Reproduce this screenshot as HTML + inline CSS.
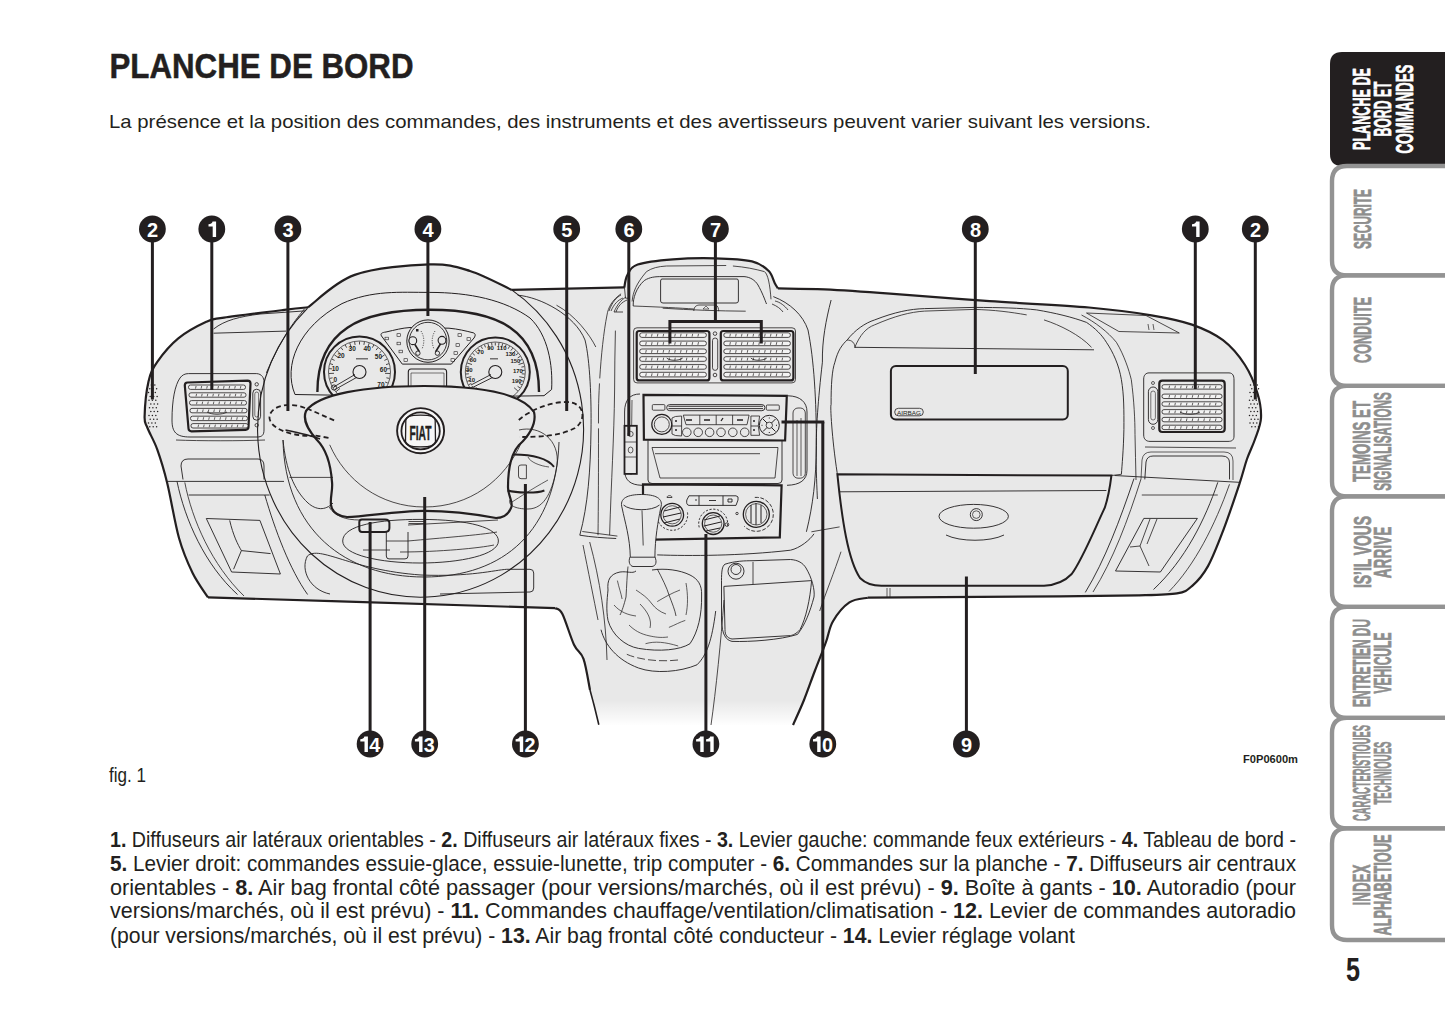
<!DOCTYPE html>
<html><head><meta charset="utf-8"><title>Planche de bord</title>
<style>
html,body{margin:0;padding:0;background:#fff;width:1445px;height:1026px;overflow:hidden}
svg{display:block;position:absolute;left:0;top:0}
text{font-family:"Liberation Sans",sans-serif;fill:#231f20}
.tab{font-weight:bold;fill:#8e8e8e;stroke:#8e8e8e;stroke-width:0.7}
.tabw{font-weight:bold;fill:#fff;stroke:#fff;stroke-width:0.7}
.num{font-weight:bold;fill:#fff;font-size:20px;text-anchor:middle}
</style></head><body>
<svg width="1445" height="1026" viewBox="0 0 1445 1026">
<defs>
<linearGradient id="fade" x1="0" y1="0" x2="0" y2="1">
<stop offset="0" stop-color="#fff" stop-opacity="0"/>
<stop offset="1" stop-color="#fff" stop-opacity="1"/>
</linearGradient>
</defs>
<!-- title -->
<text x="109.5" y="77.6" font-size="35.2" font-weight="bold" stroke="#231f20" stroke-width="0.5" textLength="304" lengthAdjust="spacingAndGlyphs">PLANCHE DE BORD</text>
<text x="109" y="128.4" font-size="19" textLength="1042" lengthAdjust="spacingAndGlyphs">La présence et la position des commandes, des instruments et des avertisseurs peuvent varier suivant les versions.</text>

<!-- tabs -->
<g>
<path d="M1445 52 H1342 Q1330 52 1330 64 V154 Q1330 166 1342 166 H1445 Z" fill="#231f20"/>
<path d="M1445 275.4 H1347 Q1332 275.4 1332 260.4 V181 Q1332 166 1347 166 H1445" fill="none" stroke="#939393" stroke-width="4.4"/>
<path d="M1445 385.9 H1347 Q1332 385.9 1332 370.9 V290.4 Q1332 275.4 1347 275.4 H1445" fill="none" stroke="#939393" stroke-width="4.4"/>
<path d="M1445 496.4 H1347 Q1332 496.4 1332 481.4 V400.9 Q1332 385.9 1347 385.9 H1445" fill="none" stroke="#939393" stroke-width="4.4"/>
<path d="M1445 606.9 H1347 Q1332 606.9 1332 591.9 V511.4 Q1332 496.4 1347 496.4 H1445" fill="none" stroke="#939393" stroke-width="4.4"/>
<path d="M1445 717.9 H1347 Q1332 717.9 1332 702.9 V621.9 Q1332 606.9 1347 606.9 H1445" fill="none" stroke="#939393" stroke-width="4.4"/>
<path d="M1445 828.4 H1347 Q1332 828.4 1332 813.4 V732.9 Q1332 717.9 1347 717.9 H1445" fill="none" stroke="#939393" stroke-width="4.4"/>
<path d="M1445 940 H1347 Q1332 940 1332 925 V843.4 Q1332 828.4 1347 828.4 H1445" fill="none" stroke="#939393" stroke-width="4.4"/>
</g>
<g font-size="23">
<!-- black tab -->
<g transform="translate(1370,109) rotate(-90)"><text class="tabw" x="0" y="0" text-anchor="middle" textLength="82" lengthAdjust="spacingAndGlyphs">PLANCHE DE</text></g>
<g transform="translate(1391.4,109) rotate(-90)"><text class="tabw" x="0" y="0" text-anchor="middle" textLength="55" lengthAdjust="spacingAndGlyphs">BORD ET</text></g>
<g transform="translate(1413.4,109) rotate(-90)"><text class="tabw" x="0" y="0" text-anchor="middle" textLength="89" lengthAdjust="spacingAndGlyphs">COMMANDES</text></g>
<g transform="translate(1371,219) rotate(-90)"><text class="tab" x="0" y="0" text-anchor="middle" textLength="60" lengthAdjust="spacingAndGlyphs">SECURITE</text></g>
<g transform="translate(1371,330) rotate(-90)"><text class="tab" x="0" y="0" text-anchor="middle" textLength="66" lengthAdjust="spacingAndGlyphs">CONDUITE</text></g>
<g transform="translate(1370,441.5) rotate(-90)"><text class="tab" x="0" y="0" text-anchor="middle" textLength="81" lengthAdjust="spacingAndGlyphs">TEMOINS ET</text></g>
<g transform="translate(1391,441.5) rotate(-90)"><text class="tab" x="0" y="0" text-anchor="middle" textLength="98.5" lengthAdjust="spacingAndGlyphs">SIGNALISATIONS</text></g>
<g transform="translate(1370.5,552) rotate(-90)"><text class="tab" x="0" y="0" text-anchor="middle" textLength="72" lengthAdjust="spacingAndGlyphs">IS’IL VOUS</text></g>
<g transform="translate(1391,552.5) rotate(-90)"><text class="tab" x="0" y="0" text-anchor="middle" textLength="51.5" lengthAdjust="spacingAndGlyphs">ARRIVE</text></g>
<g transform="translate(1370,663) rotate(-90)"><text class="tab" x="0" y="0" text-anchor="middle" textLength="88" lengthAdjust="spacingAndGlyphs">ENTRETIEN DU</text></g>
<g transform="translate(1391,663) rotate(-90)"><text class="tab" x="0" y="0" text-anchor="middle" textLength="61" lengthAdjust="spacingAndGlyphs">VEHICULE</text></g>
<g transform="translate(1370,773) rotate(-90)"><text class="tab" x="0" y="0" text-anchor="middle" textLength="96" lengthAdjust="spacingAndGlyphs">CARACTERISTIOUES</text></g>
<g transform="translate(1391,773) rotate(-90)"><text class="tab" x="0" y="0" text-anchor="middle" textLength="63" lengthAdjust="spacingAndGlyphs">TECHNIOUES</text></g>
<g transform="translate(1370,885) rotate(-90)"><text class="tab" x="0" y="0" text-anchor="middle" textLength="41" lengthAdjust="spacingAndGlyphs">INDEX</text></g>
<g transform="translate(1391,885) rotate(-90)"><text class="tab" x="0" y="0" text-anchor="middle" textLength="101" lengthAdjust="spacingAndGlyphs">ALPHABETIOUE</text></g>
</g>
<text x="1346" y="981" font-size="33" font-weight="bold" textLength="14" lengthAdjust="spacingAndGlyphs">5</text>

<!-- illustration -->
<path d="M208 597.4 C205.4 593.3 197.4 582.9 192.6 573.0 C187.8 563.1 183.2 552.9 179.0 538.0 C174.8 523.1 170.9 498.1 167.3 483.4 C163.7 468.7 160.6 458.8 157.3 449.6 C154.0 440.4 149.6 433.5 147.5 428.0 C145.4 422.5 144.4 424.3 144.6 416.5 C144.8 408.7 146.4 390.5 148.5 381.4 C150.6 372.3 152.3 369.1 157.3 361.9 C162.3 354.7 170.1 345.1 178.3 338.4 C186.5 331.7 198.7 325.3 206.3 321.8 C213.9 318.3 211.0 319.6 224.0 317.6 C237.0 315.6 270.2 311.6 284.2 309.9 C298.2 308.2 304.0 307.7 308.0 307.3C315.8 301.9 334.4 282.0 354.7 274.9 C374.9 267.8 410.3 265.0 429.5 264.4 C448.7 263.8 456.3 266.8 470.0 271.0 C483.7 275.2 504.8 286.8 511.7 289.9L624.3 287.4C624.8 285.3 625.2 278.8 627.4 275.0 C629.6 271.2 630.1 267.1 637.7 264.5 C645.3 261.9 660.2 260.3 673.0 259.3 C685.8 258.3 701.4 258.0 714.6 258.3 C727.8 258.6 743.0 259.3 752.0 261.4 C761.0 263.5 764.7 267.2 768.5 270.8 C772.3 274.4 773.2 280.3 774.8 283.2 C776.4 286.1 777.4 287.5 777.9 288.4C785.7 288.6 805.9 288.5 824.6 289.4 C843.3 290.3 862.5 291.6 890.0 293.6 C917.5 295.6 956.3 298.9 989.5 301.2 C1022.7 303.5 1062.0 305.1 1089.0 307.5 C1116.0 309.9 1134.3 312.4 1151.5 315.3 C1168.7 318.2 1180.1 320.5 1192.0 324.6 C1203.9 328.8 1214.2 333.5 1223.0 340.2 C1231.8 346.9 1239.3 356.2 1245.0 365.0 C1250.7 373.8 1254.7 384.2 1257.4 393.0 C1260.1 401.8 1261.4 410.2 1261.0 418.0 C1260.6 425.8 1257.2 432.7 1254.9 439.5 C1252.6 446.3 1249.6 451.5 1247.0 459.0 C1244.4 466.5 1243.2 472.6 1239.3 484.3 C1235.4 496.0 1228.9 515.5 1223.7 529.1 C1218.5 542.7 1213.2 556.7 1208.0 566.1 C1202.8 575.5 1197.7 581.1 1192.5 585.6 C1187.3 590.1 1186.1 591.8 1177.0 593.4 C1167.9 595.0 1144.5 595.1 1138.0 595.4L1060.0 596.3 L867.8 597.7C864.7 598.5 855.2 598.5 849.4 602.4 C843.6 606.3 836.9 614.6 833.0 621.2 C829.1 627.8 829.0 633.7 826.0 642.0 C823.0 650.3 818.5 661.3 814.8 671.0 C811.1 680.7 807.6 691.0 804.0 700.0 C800.4 709.0 794.8 720.8 793.0 725.0 L598.8 725 C597.3 718.9 592.5 701.0 590.0 690.0 C587.5 679.0 586.2 666.3 583.5 658.8 C580.8 651.2 577.5 652.2 574.0 644.7 C570.5 637.2 565.5 620.1 562.4 614.0 C559.3 607.9 556.5 609.2 555.3 608.2L340.0 601.3 L208.0 597.4Z" fill="#e8e8e8" stroke="none"/>
<rect x="560" y="700" width="300" height="26" fill="url(#fade)"/>
<path d="M208.0 597.4 C205.4 593.3 197.4 582.9 192.6 573.0 C187.8 563.1 183.2 552.9 179.0 538.0 C174.8 523.1 170.9 498.1 167.3 483.4 C163.7 468.7 160.6 458.8 157.3 449.6 C154.0 440.4 149.6 433.5 147.5 428.0 C145.4 422.5 144.4 424.3 144.6 416.5 C144.8 408.7 146.4 390.5 148.5 381.4 C150.6 372.3 152.3 369.1 157.3 361.9 C162.3 354.7 170.1 345.1 178.3 338.4 C186.5 331.7 198.7 325.3 206.3 321.8 C213.9 318.3 211.0 319.6 224.0 317.6 C237.0 315.6 270.2 311.6 284.2 309.9 C298.2 308.2 304.0 307.7 308.0 307.3" fill="none" stroke="#231f20" stroke-width="2.2" />
<path d="M308.0 307.3 C315.8 301.9 334.4 282.0 354.7 274.9 C374.9 267.8 410.3 265.0 429.5 264.4 C448.7 263.8 456.3 266.8 470.0 271.0 C483.7 275.2 504.8 286.8 511.7 289.9" fill="none" stroke="#231f20" stroke-width="2.2" />
<path d="M624.3 287.4 C624.8 285.3 625.2 278.8 627.4 275.0 C629.6 271.2 630.1 267.1 637.7 264.5 C645.3 261.9 660.2 260.3 673.0 259.3 C685.8 258.3 701.4 258.0 714.6 258.3 C727.8 258.6 743.0 259.3 752.0 261.4 C761.0 263.5 764.7 267.2 768.5 270.8 C772.3 274.4 773.2 280.3 774.8 283.2 C776.4 286.1 777.4 287.5 777.9 288.4" fill="none" stroke="#231f20" stroke-width="2.2" />
<path d="M777.9 288.4 C785.7 288.6 805.9 288.5 824.6 289.4 C843.3 290.3 862.5 291.6 890.0 293.6 C917.5 295.6 956.3 298.9 989.5 301.2 C1022.7 303.5 1062.0 305.1 1089.0 307.5 C1116.0 309.9 1134.3 312.4 1151.5 315.3 C1168.7 318.2 1180.1 320.5 1192.0 324.6 C1203.9 328.8 1214.2 333.5 1223.0 340.2 C1231.8 346.9 1239.3 356.2 1245.0 365.0 C1250.7 373.8 1254.7 384.2 1257.4 393.0 C1260.1 401.8 1261.4 410.2 1261.0 418.0 C1260.6 425.8 1257.2 432.7 1254.9 439.5 C1252.6 446.3 1249.6 451.5 1247.0 459.0 C1244.4 466.5 1243.2 472.6 1239.3 484.3 C1235.4 496.0 1228.9 515.5 1223.7 529.1 C1218.5 542.7 1213.2 556.7 1208.0 566.1 C1202.8 575.5 1197.7 581.1 1192.5 585.6 C1187.3 590.1 1186.1 591.8 1177.0 593.4 C1167.9 595.0 1144.5 595.1 1138.0 595.4" fill="none" stroke="#231f20" stroke-width="2.2" />
<path d="M867.8 597.7 C864.7 598.5 855.2 598.5 849.4 602.4 C843.6 606.3 836.9 614.6 833.0 621.2 C829.1 627.8 829.0 633.7 826.0 642.0 C823.0 650.3 818.5 661.3 814.8 671.0 C811.1 680.7 807.6 691.0 804.0 700.0 C800.4 709.0 794.8 720.8 793.0 725.0" fill="none" stroke="#231f20" stroke-width="2.2" />
<path d="M590.0 690.0 C588.9 684.8 586.2 666.3 583.5 658.8 C580.8 651.2 577.5 652.2 574.0 644.7 C570.5 637.2 565.5 620.1 562.4 614.0 C559.3 607.9 556.5 609.2 555.3 608.2" fill="none" stroke="#231f20" stroke-width="2.2" />
<path d="M511.7 289.9 L624.3 287.4" fill="none" stroke="#231f20" stroke-width="2.2" />
<path d="M1138.0 595.4 L1060.0 596.3 L867.8 597.7" fill="none" stroke="#231f20" stroke-width="2.2" />
<path d="M555.3 608.2 L340.0 601.3 L208.0 597.4" fill="none" stroke="#231f20" stroke-width="2.2" />
<path d="M598.8 724.7 C598.0 721.4 595.5 710.8 594.0 705.0 C592.5 699.2 590.7 692.5 590.0 690.0" fill="none" stroke="#231f20" stroke-width="1.6" />
<path d="M307.4 308.3 A163 168 0 1 0 511.7 289.9" fill="none" stroke="#231f20" stroke-width="1.1" />
<path d="M295 394.5 C283 366, 298 327, 342 303.6 C372 290, 400 292.4, 429.5 292.4 C470 292.4, 505 300, 530 318 C548 335, 553 365, 551.6 389.5" fill="none" stroke="#231f20" stroke-width="1.0" />
<path d="M295 394.5 C 380 396, 470 397, 544 395.7 L551.6 389.5" fill="none" stroke="#231f20" stroke-width="1.0" />
<path d="M317.4 392 C317.4 330, 360 309.8, 429.5 309.8 C499 309.8, 539 330, 539 392" fill="none" stroke="#231f20" stroke-width="2.4" />
<circle cx="359.5" cy="372" r="35.5" fill="none" stroke="#231f20" stroke-width="2.0"/>
<circle cx="359.5" cy="372" r="31" fill="none" stroke="#231f20" stroke-width="0.7"/>
<circle cx="359.5" cy="372" r="6.5" fill="none" stroke="#231f20" stroke-width="1.1"/>
<path d="M333.6 387 L355 374.5 M335 389.5 L356.5 377.5" fill="none" stroke="#231f20" stroke-width="0.9" />
<circle cx="334" cy="387.5" r="2.6" fill="none" stroke="#231f20" stroke-width="0.9"/>
<path d="M336.1 391.6 L340.0 388.4 M333.3 387.6 L335.9 386.0 M331.1 383.1 L333.9 382.0 M329.7 378.4 L332.6 377.8 M329.0 373.5 L334.0 373.3 M329.2 368.6 L332.2 368.9 M330.1 363.7 L333.0 364.6 M331.9 359.1 L334.6 360.4 M334.3 354.8 L338.4 357.6 M337.4 351.0 L339.6 353.0 M341.1 347.7 L342.9 350.1 M345.2 345.0 L346.7 347.7 M349.8 343.1 L351.4 347.8 M354.6 341.9 L355.1 344.9 M359.5 341.5 L359.5 344.5 M364.4 341.9 L363.9 344.9 M369.2 343.1 L367.6 347.8 M373.8 345.0 L372.3 347.7 M377.9 347.7 L376.1 350.1 M381.6 351.0 L379.4 353.0 M384.7 354.8 L380.6 357.6 M387.1 359.1 L384.4 360.4 M388.9 363.7 L386.0 364.6 M389.8 368.6 L386.8 368.9 M390.0 373.5 L385.0 373.3 M389.3 378.4 L386.4 377.8 M387.9 383.1 L385.1 382.0 M385.7 387.6 L383.1 386.0 M382.9 391.6 L379.0 388.4 " fill="none" stroke="#231f20" stroke-width="0.8" />
<path d="M472.7 391.0 L476.5 387.7 M470.5 388.0 L473.0 386.3 M468.7 384.7 L471.4 383.4 M467.3 381.3 L470.1 380.3 M466.4 377.7 L471.3 376.7 M465.9 374.0 L468.9 373.8 M465.8 370.3 L468.8 370.5 M466.3 366.6 L469.2 367.1 M467.2 363.0 L472.0 364.5 M468.6 359.5 L471.3 360.8 M470.3 356.3 L472.9 357.9 M472.5 353.3 L474.8 355.2 M475.1 350.5 L478.5 354.2 M477.9 348.2 L479.7 350.6 M481.0 346.2 L482.5 348.8 M484.4 344.6 L485.5 347.4 M487.9 343.4 L489.2 348.3 M491.6 342.7 L492.0 345.7 M495.3 342.5 L495.3 345.5 M499.0 342.7 L498.6 345.7 M502.7 343.4 L501.4 348.3 M506.2 344.6 L505.1 347.4 M509.6 346.2 L508.1 348.8 M512.7 348.2 L510.9 350.6 M515.5 350.5 L512.1 354.2 M518.1 353.3 L515.8 355.2 M520.3 356.3 L517.7 357.9 M522.0 359.5 L519.3 360.8 M523.4 363.0 L518.6 364.5 M524.3 366.6 L521.4 367.1 M524.8 370.3 L521.8 370.5 M524.7 374.0 L521.7 373.8 M524.2 377.7 L519.3 376.7 M523.3 381.3 L520.5 380.3 M521.9 384.7 L519.2 383.4 M520.1 388.0 L517.6 386.3 M517.9 391.0 L514.1 387.7 " fill="none" stroke="#231f20" stroke-width="0.8" />
<circle cx="495.3" cy="372" r="34.5" fill="none" stroke="#231f20" stroke-width="2.0"/>
<circle cx="495.3" cy="372" r="30" fill="none" stroke="#231f20" stroke-width="0.7"/>
<circle cx="495.3" cy="372" r="6.5" fill="none" stroke="#231f20" stroke-width="1.1"/>
<path d="M471 385 L491 374.5 M472.5 387.5 L492.5 377.5" fill="none" stroke="#231f20" stroke-width="0.9" />
<text x="335.3" y="381.8" font-size="6.5" font-weight="bold" text-anchor="middle" fill="#231f20">0</text>
<text x="335.3" y="371.3" font-size="6.5" font-weight="bold" text-anchor="middle" fill="#231f20">10</text>
<text x="341.0" y="358.2" font-size="6.5" font-weight="bold" text-anchor="middle" fill="#231f20">20</text>
<text x="352.2" y="350.7" font-size="6.5" font-weight="bold" text-anchor="middle" fill="#231f20">30</text>
<text x="367.2" y="350.7" font-size="6.5" font-weight="bold" text-anchor="middle" fill="#231f20">40</text>
<text x="378.4" y="359.4" font-size="6.5" font-weight="bold" text-anchor="middle" fill="#231f20">50</text>
<text x="383.4" y="372.3" font-size="6.5" font-weight="bold" text-anchor="middle" fill="#231f20">60</text>
<text x="380.9" y="386.8" font-size="6.5" font-weight="bold" text-anchor="middle" fill="#231f20">70</text>
<text x="471.8" y="381.6" font-size="6" font-weight="bold" text-anchor="middle" fill="#231f20">10</text>
<text x="469.3" y="371.7" font-size="6" font-weight="bold" text-anchor="middle" fill="#231f20">30</text>
<text x="473.1" y="361.7" font-size="6" font-weight="bold" text-anchor="middle" fill="#231f20">50</text>
<text x="480.5" y="354.2" font-size="6" font-weight="bold" text-anchor="middle" fill="#231f20">70</text>
<text x="490.5" y="349.8" font-size="6" font-weight="bold" text-anchor="middle" fill="#231f20">90</text>
<text x="501.7" y="349.8" font-size="6" font-weight="bold" text-anchor="middle" fill="#231f20">110</text>
<text x="510.4" y="355.5" font-size="6" font-weight="bold" text-anchor="middle" fill="#231f20">130</text>
<text x="515.4" y="363.0" font-size="6" font-weight="bold" text-anchor="middle" fill="#231f20">150</text>
<text x="517.9" y="372.9" font-size="6" font-weight="bold" text-anchor="middle" fill="#231f20">170</text>
<text x="516.7" y="382.9" font-size="6" font-weight="bold" text-anchor="middle" fill="#231f20">190</text>
<rect x="356" y="358" width="12" height="1.5" fill="#231f20" opacity="0.6"/>
<rect x="490" y="358" width="8" height="1.5" fill="#231f20" opacity="0.6"/>
<path d="M381.5 336 C 380 333.5, 382 332.5, 386 332 C 395 330, 402 328, 410 327.5 L 449 328.2 C 458 329, 466 331, 472 332.5 C 475.5 333, 476 335, 474 338 L 451.4 364.1 L 402.3 364.1 Z" fill="none" stroke="#231f20" stroke-width="1.0" />
<circle cx="428" cy="341.1" r="21.2" fill="#e8e8e8" stroke="#231f20" stroke-width="1.0"/>
<circle cx="428" cy="341.1" r="18.8" fill="none" stroke="#231f20" stroke-width="0.9"/>
<path d="M414 343 L 419.5 352 M 441 343 L 435.5 352" fill="none" stroke="#231f20" stroke-width="1.6" />
<circle cx="412.8" cy="340.7" r="3.9" fill="#e8e8e8" stroke="#231f20" stroke-width="1.1"/>
<circle cx="442" cy="340.3" r="3.9" fill="#e8e8e8" stroke="#231f20" stroke-width="1.1"/>
<circle cx="417.9" cy="353.2" r="2.2" fill="#e8e8e8" stroke="#231f20" stroke-width="0.9"/>
<circle cx="437.4" cy="353.2" r="2.2" fill="#e8e8e8" stroke="#231f20" stroke-width="0.9"/>
<path d="M421 331 C 424 336, 425 342, 422 349 M 435 331 C 432 336, 431 342, 434 349" fill="none" stroke="#231f20" stroke-width="0.7" stroke-dasharray="1.2 1.2"/>
<rect x="416" y="329" width="2.5" height="2.5" fill="#231f20"/>
<rect x="385" y="337.2" width="3.6" height="2.6" fill="none" stroke="#231f20" stroke-width="0.6"/>
<rect x="397" y="333.7" width="3.6" height="2.6" fill="none" stroke="#231f20" stroke-width="0.6"/>
<rect x="397" y="342.2" width="3.6" height="2.6" fill="none" stroke="#231f20" stroke-width="0.6"/>
<rect x="399" y="350.2" width="3.6" height="2.6" fill="none" stroke="#231f20" stroke-width="0.6"/>
<rect x="404" y="358.7" width="3.6" height="2.6" fill="none" stroke="#231f20" stroke-width="0.6"/>
<rect x="458" y="333.7" width="3.6" height="2.6" fill="none" stroke="#231f20" stroke-width="0.6"/>
<rect x="467" y="337.7" width="3.6" height="2.6" fill="none" stroke="#231f20" stroke-width="0.6"/>
<rect x="456" y="343.7" width="3.6" height="2.6" fill="none" stroke="#231f20" stroke-width="0.6"/>
<rect x="454" y="351.7" width="3.6" height="2.6" fill="none" stroke="#231f20" stroke-width="0.6"/>
<rect x="451" y="358.7" width="3.6" height="2.6" fill="none" stroke="#231f20" stroke-width="0.6"/>
<path d="M408.3 386 L408.3 372 Q408.3 369 411 369 L444 369 Q446.6 369 446.6 372 L446.6 386" fill="none" stroke="#231f20" stroke-width="1.1" />
<path d="M411 386 L411 373 L444 373 L444 386" fill="none" stroke="#231f20" stroke-width="0.6" />
<path d="M306 411 C318 394, 365 386, 424 386 C482 386, 522 394, 534 412 C537 424, 528 437, 519 445 C510 455, 508 470, 508 487 C508 496, 514 503, 511 508 C508 515, 502 518, 496 518 C470 513, 445 510.8, 424 510.8 C395 511, 365 517, 347 517 C338 516, 332 512, 331 505 C330 497, 333 490, 332 482 C331 468, 327 450, 317 440 C309 431, 302 421, 306 411 Z" fill="#e8e8e8" stroke="#231f20" stroke-width="2.2" />
<path d="M329.7 444.8 C345 480, 380 507, 424.4 507 C470 507, 505 480, 521.5 442.3" fill="none" stroke="#231f20" stroke-width="0.8" />
<ellipse cx="420.6" cy="430.7" rx="23.5" ry="22.6" fill="#f6f6f6" stroke="#231f20" stroke-width="1.9"/>
<ellipse cx="420.6" cy="430.9" rx="19.2" ry="18.5" fill="none" stroke="#231f20" stroke-width="1.8"/>
<path d="M405.8 421 C 405.5 416.5, 410 415.2, 420.5 415.2 C 431 415.2, 435.5 416.5, 435.2 421 L 435.5 441 C 435.5 445.5, 431 446.8, 420.5 446.8 C 410 446.8, 405.5 445.5, 405.5 441 Z" fill="none" stroke="#231f20" stroke-width="1.3" />
<text x="409.5" y="440.2" font-size="21" font-weight="bold" fill="#4a4546" stroke="#231f20" stroke-width="0.4" textLength="22" lengthAdjust="spacingAndGlyphs">FIAT</text>
<path d="M305 408 C 290 402, 272 405, 269.5 416 C 268 428, 290 436, 312 436" fill="none" stroke="#231f20" stroke-width="1.8" stroke-dasharray="5 3.2"/>
<path d="M307 408.5 L 334.6 420.6" fill="none" stroke="#231f20" stroke-width="1.8" stroke-dasharray="5 3.2"/>
<path d="M315.5 435.6 L 331 438.3" fill="none" stroke="#231f20" stroke-width="1.8" stroke-dasharray="5 3.2"/>
<path d="M518.8 420 C 530 410, 550 402, 566 402 C 585 402, 587 420, 575 428 C 560 436, 540 437, 519 437" fill="none" stroke="#231f20" stroke-width="1.8" stroke-dasharray="5 3.2"/>
<path d="M285.5 430 C 300 433, 315 437, 320 439" fill="none" stroke="#231f20" stroke-width="1.4" />
<path d="M283 440 C 285 530, 345 577, 424 577 C 505 577, 556 530, 559 442" fill="none" stroke="#231f20" stroke-width="0.9" />
<path d="M266.4 372.8 C 285 330, 300 315, 304.6 308.7" fill="none" stroke="#231f20" stroke-width="0.9" />
<path d="M330 594 C 310 590, 300 570, 307.4 556 C 320 545, 350 570, 421 575 C 470 577, 495 570, 506.7 569.3 L530 569.3 Q533.7 569.3 533.7 573 L533.7 588 Q533.7 592 530 592 L 440 594" fill="none" stroke="#231f20" stroke-width="0.9" />
<path d="M342.7 541 C 342.7 525, 380 519.4, 420 519.4 C 470 519.4, 498.4 528, 498.4 541 C 498.4 555, 460 563, 420 563 C 380 563, 342.7 555, 342.7 541 Z" fill="none" stroke="#231f20" stroke-width="0.9" />
<path d="M408 525 L 498 520 M408 541 C 440 538, 480 535, 497 532 M400 552 C 440 552, 480 548, 494 545 M363 550 L 390 550" fill="none" stroke="#231f20" stroke-width="0.8" />
<path d="M408.5 523.5 L 424 523.5 M408.5 521.5 L 424 521.5" fill="none" stroke="#231f20" stroke-width="0.8" />
<path d="M359.3 522 Q359.3 519.4 362 519.4 L385 519.4 Q389.4 519.4 389.4 523 L389.4 528 Q389.4 531.9 385 531.9 L362 531.9 Q359.3 531.9 359.3 529 Z" fill="none" stroke="#231f20" stroke-width="2.0" />
<path d="M386.3 532 L386.3 556 Q386.3 558.9 389 558.9 L405 558.9 Q408 558.9 408 556 L408 532" fill="none" stroke="#231f20" stroke-width="0.9" />
<path d="M386.3 541 L408 541" fill="none" stroke="#231f20" stroke-width="0.8" />
<path d="M329 507 C 335 516, 345 520, 360 520" fill="none" stroke="#231f20" stroke-width="0.8" />
<path d="M283 440 C 286 470, 294 490, 308 503 C 316 510, 325 511, 333 503" fill="none" stroke="#231f20" stroke-width="0.9" />
<path d="M289.5 477.4 L 333 477.4" fill="none" stroke="#231f20" stroke-width="0.8" />
<path d="M513.7 454.6 C 525 454.6, 545 456, 554 466.8" fill="none" stroke="#231f20" stroke-width="2.0" />
<path d="M507.5 490.5 C 515 492.5, 535 494, 544.4 490.5" fill="none" stroke="#231f20" stroke-width="2.0" />
<path d="M519 430 C 540 425, 560 440, 557 465 C 553 490, 545 509, 528 509 C 515 509, 508 505, 510 500" fill="none" stroke="#231f20" stroke-width="0.8" />
<path d="M518.5 467 Q518.5 465 521 465 L526.4 465 L526.4 478.7 L521 478.7 Q518.5 478.7 518.5 476 Z" fill="none" stroke="#231f20" stroke-width="0.8" />
<path d="M528 457 C 530 462, 540 466, 549 467 M512 502 C 520 497, 530 490, 548 480" fill="none" stroke="#231f20" stroke-width="0.7" />
<path d="M188.5 373.6 L 256.7 373.6 C 262 374, 264 378, 264 382 L 264 430 C 264 435, 262 437, 257 437 L 190 437 C 176 437, 172 432, 172 420 C 172 400, 175 385, 180 378 C 182 375, 185 373.6, 188.5 373.6 Z" fill="none" stroke="#231f20" stroke-width="0.9" />
<path d="M176 440 C 200 441, 240 441, 265 440" fill="none" stroke="#231f20" stroke-width="0.8" />
<path d="M187.5 382.5 L247.5 380.6 Q250.5 380.6 250.5 383.5 L 248.5 427 Q 248.4 429.7 245.5 429.8 L 191.5 431.3 Q 188.7 431.3 188.5 428.5 L 184.8 385.5 Q 184.8 382.6 187.5 382.5 Z" fill="#e8e8e8" stroke="#231f20" stroke-width="2.2"/>
<rect x="188.5" y="385.0" width="57" height="4.4" rx="2" fill="#f0f0f0" stroke="#231f20" stroke-width="0.8"/>
<path d="M195.5 388.6 l0.6 -2.6 M201.1 388.6 l0.6 -2.6 M206.7 388.6 l0.6 -2.6 M212.3 388.6 l0.6 -2.6 M217.9 388.6 l0.6 -2.6 M223.5 388.6 l0.6 -2.6 M229.1 388.6 l0.6 -2.6 M234.7 388.6 l0.6 -2.6 M240.3 388.6 l0.6 -2.6 " stroke="#231f20" stroke-width="0.7"/>
<rect x="189.0" y="392.8" width="57" height="4.4" rx="2" fill="#f0f0f0" stroke="#231f20" stroke-width="0.8"/>
<path d="M196.0 396.4 l0.6 -2.6 M201.6 396.4 l0.6 -2.6 M207.2 396.4 l0.6 -2.6 M212.8 396.4 l0.6 -2.6 M218.4 396.4 l0.6 -2.6 M224.0 396.4 l0.6 -2.6 M229.6 396.4 l0.6 -2.6 M235.2 396.4 l0.6 -2.6 M240.8 396.4 l0.6 -2.6 " stroke="#231f20" stroke-width="0.7"/>
<rect x="189.5" y="400.6" width="57" height="4.4" rx="2" fill="#f0f0f0" stroke="#231f20" stroke-width="0.8"/>
<path d="M196.5 404.2 l0.6 -2.6 M202.1 404.2 l0.6 -2.6 M207.7 404.2 l0.6 -2.6 M213.3 404.2 l0.6 -2.6 M218.9 404.2 l0.6 -2.6 M224.5 404.2 l0.6 -2.6 M230.1 404.2 l0.6 -2.6 M235.7 404.2 l0.6 -2.6 M241.3 404.2 l0.6 -2.6 " stroke="#231f20" stroke-width="0.7"/>
<rect x="190.0" y="408.4" width="57" height="4.4" rx="2" fill="#f0f0f0" stroke="#231f20" stroke-width="0.8"/>
<path d="M197.0 412.0 l0.6 -2.6 M202.6 412.0 l0.6 -2.6 M208.2 412.0 l0.6 -2.6 M213.8 412.0 l0.6 -2.6 M219.4 412.0 l0.6 -2.6 M225.0 412.0 l0.6 -2.6 M230.6 412.0 l0.6 -2.6 M236.2 412.0 l0.6 -2.6 M241.8 412.0 l0.6 -2.6 " stroke="#231f20" stroke-width="0.7"/>
<rect x="190.5" y="416.2" width="57" height="4.4" rx="2" fill="#f0f0f0" stroke="#231f20" stroke-width="0.8"/>
<path d="M197.5 419.8 l0.6 -2.6 M203.1 419.8 l0.6 -2.6 M208.7 419.8 l0.6 -2.6 M214.3 419.8 l0.6 -2.6 M219.9 419.8 l0.6 -2.6 M225.5 419.8 l0.6 -2.6 M231.1 419.8 l0.6 -2.6 M236.7 419.8 l0.6 -2.6 M242.3 419.8 l0.6 -2.6 " stroke="#231f20" stroke-width="0.7"/>
<rect x="191.0" y="423.6" width="57" height="4.4" rx="2" fill="#f0f0f0" stroke="#231f20" stroke-width="0.8"/>
<path d="M198.0 427.2 l0.6 -2.6 M203.6 427.2 l0.6 -2.6 M209.2 427.2 l0.6 -2.6 M214.8 427.2 l0.6 -2.6 M220.4 427.2 l0.6 -2.6 M226.0 427.2 l0.6 -2.6 M231.6 427.2 l0.6 -2.6 M237.2 427.2 l0.6 -2.6 M242.8 427.2 l0.6 -2.6 " stroke="#231f20" stroke-width="0.7"/>
<path d="M207 412 C 212 415, 222 415, 227 412" fill="none" stroke="#231f20" stroke-width="0.8" />
<rect x="252.8" y="389.2" width="7.8" height="31" rx="3.9" fill="none" stroke="#231f20" stroke-width="0.9"/>
<rect x="254.8" y="392" width="3.8" height="25" rx="1.9" fill="none" stroke="#231f20" stroke-width="0.6"/>
<circle cx="256.7" cy="384.3" r="1.7" fill="none" stroke="#231f20" stroke-width="0.8"/>
<circle cx="256.7" cy="425.2" r="1.7" fill="none" stroke="#231f20" stroke-width="0.8"/>
<path d="M213.6 329 C 225 320, 240 316.6, 260 314 L 305 310.9" fill="none" stroke="#231f20" stroke-width="0.9" />
<path d="M213.6 333.2 L 286.3 331.1" fill="none" stroke="#231f20" stroke-width="0.9" />
<path d="M183 479.5 L 181 466 Q 181 459 188 459 L 258 459 Q 264 459 264 466 L 264 479.5" fill="none" stroke="#231f20" stroke-width="0.9" />
<path d="M167.3 481.4 L 284 481.4" fill="none" stroke="#231f20" stroke-width="0.9" />
<path d="M188.7 495 L 269.6 495" fill="none" stroke="#231f20" stroke-width="0.9" />
<path d="M177 481.4 C 185 520, 205 565, 237.5 594.5" fill="none" stroke="#231f20" stroke-width="0.9" />
<path d="M184.8 482.4 C 192 520, 212 565, 244 596" fill="none" stroke="#231f20" stroke-width="0.8" />
<path d="M264.8 495 C 275 530, 290 570, 307.6 594.5" fill="none" stroke="#231f20" stroke-width="0.9" />
<path d="M206.3 518.5 L 259.9 520.4 L 280.4 574 L 231.6 572 Z" fill="none" stroke="#231f20" stroke-width="0.9" />
<path d="M229.7 520.4 C 233 535, 238 545, 241.4 550.6 L 270.6 553.6 M 241.4 550.6 L 233.6 569.2" fill="none" stroke="#231f20" stroke-width="0.9" />
<circle cx="148.0" cy="385.0" r="0.75" fill="#231f20"/>
<circle cx="151.4" cy="385.0" r="0.75" fill="#231f20"/>
<circle cx="154.8" cy="385.0" r="0.75" fill="#231f20"/>
<circle cx="149.8" cy="388.8" r="0.75" fill="#231f20"/>
<circle cx="153.2" cy="388.8" r="0.75" fill="#231f20"/>
<circle cx="156.6" cy="388.8" r="0.75" fill="#231f20"/>
<circle cx="148.5" cy="392.6" r="0.75" fill="#231f20"/>
<circle cx="151.9" cy="392.6" r="0.75" fill="#231f20"/>
<circle cx="155.3" cy="392.6" r="0.75" fill="#231f20"/>
<circle cx="150.2" cy="396.4" r="0.75" fill="#231f20"/>
<circle cx="153.7" cy="396.4" r="0.75" fill="#231f20"/>
<circle cx="157.1" cy="396.4" r="0.75" fill="#231f20"/>
<circle cx="149.0" cy="400.2" r="0.75" fill="#231f20"/>
<circle cx="152.4" cy="400.2" r="0.75" fill="#231f20"/>
<circle cx="155.8" cy="400.2" r="0.75" fill="#231f20"/>
<circle cx="150.8" cy="404.0" r="0.75" fill="#231f20"/>
<circle cx="154.2" cy="404.0" r="0.75" fill="#231f20"/>
<circle cx="157.6" cy="404.0" r="0.75" fill="#231f20"/>
<circle cx="149.5" cy="407.8" r="0.75" fill="#231f20"/>
<circle cx="152.9" cy="407.8" r="0.75" fill="#231f20"/>
<circle cx="156.3" cy="407.8" r="0.75" fill="#231f20"/>
<circle cx="150.8" cy="411.6" r="0.75" fill="#231f20"/>
<circle cx="154.2" cy="411.6" r="0.75" fill="#231f20"/>
<circle cx="157.6" cy="411.6" r="0.75" fill="#231f20"/>
<circle cx="149.0" cy="415.4" r="0.75" fill="#231f20"/>
<circle cx="152.4" cy="415.4" r="0.75" fill="#231f20"/>
<circle cx="155.8" cy="415.4" r="0.75" fill="#231f20"/>
<circle cx="150.2" cy="419.2" r="0.75" fill="#231f20"/>
<circle cx="153.7" cy="419.2" r="0.75" fill="#231f20"/>
<circle cx="157.1" cy="419.2" r="0.75" fill="#231f20"/>
<circle cx="148.5" cy="423.0" r="0.75" fill="#231f20"/>
<circle cx="151.9" cy="423.0" r="0.75" fill="#231f20"/>
<circle cx="155.3" cy="423.0" r="0.75" fill="#231f20"/>
<circle cx="149.8" cy="426.8" r="0.75" fill="#231f20"/>
<circle cx="153.2" cy="426.8" r="0.75" fill="#231f20"/>
<circle cx="156.6" cy="426.8" r="0.75" fill="#231f20"/>
<path d="M632.1 301.5 C 633 292, 636 284, 646.5 271.6 C 652 268, 658 266.5, 666.4 266 L 726.2 265.5 M 732.9 266 C 745 267, 755 269, 764.4 271.6 C 768 274, 770 285, 771 299.3" fill="none" stroke="#231f20" stroke-width="0.8" />
<path d="M624.4 287 L 625.5 298.2 L 628.5 298.2" fill="none" stroke="#231f20" stroke-width="0.8" />
<path d="M633.2 306 C 633 298, 636 288, 644.3 280.5 C 650 277, 655 276.6, 662 276.6 L 744 276.6 C 750 277, 755 280, 758 285 C 762 292, 765 300, 766.5 304" fill="none" stroke="#231f20" stroke-width="0.9" />
<path d="M633.2 306 C 660 307, 680 308, 693.8 309" fill="none" stroke="#231f20" stroke-width="0.8" />
<path d="M662 279 L 737 279 Q 738.4 279 738.4 281 L 738.4 301 Q 738.4 303 736 303 L 663 303 Q 660.6 303 660.6 301 L 660.6 281 Q 660.6 279 662 279 Z" fill="none" stroke="#231f20" stroke-width="0.9" />
<path d="M662.7 308.2 C 690 310, 720 311, 745.7 311.2" fill="none" stroke="#231f20" stroke-width="0.8" />
<path d="M693.8 311 C 694 306, 697 305, 700 305 L 716 305 C 718 306, 718.7 309, 718.7 311.2" fill="none" stroke="#231f20" stroke-width="0.8" />
<path d="M703 309 L 706 306 L 709 309 Z" fill="none" stroke="#231f20" stroke-width="0.6" />
<path d="M611 311 C 614 304, 618 300, 623 298 M 616 312 C 618 306, 622 302, 627 300 M 775 301 C 780 302, 785 306, 788 310 M 772 304 C 777 306, 781 309, 783 312" fill="none" stroke="#231f20" stroke-width="0.8" />
<path d="M517.7 295.2 C 540 297, 575 315, 585 340 C 590 360, 591.5 400, 591 430 C 590.5 470, 588 505, 579.8 535.2" fill="none" stroke="#231f20" stroke-width="0.9" />
<path d="M556.5 305.2 C 575 315, 590 335, 595.8 347" fill="none" stroke="#231f20" stroke-width="0.8" />
<path d="M621.1 293.8 C 612 300, 608 308, 607 315 C 602 340, 599 380, 598.5 410 C 598.5 460, 598.5 500, 598 535.2" fill="none" stroke="#231f20" stroke-width="0.8" stroke-dasharray="90 5 40 5 200"/>
<path d="M615.4 330.6 C 615 350, 614.6 370, 614.6 390 C 614 440, 611.3 478.9, 609.6 535.2" fill="none" stroke="#231f20" stroke-width="0.8" />
<path d="M609 311 C 612 302, 617 297, 621 295 M 614 312 C 617 305, 621 300, 626 297 M 614 312 L 623 312" fill="none" stroke="#231f20" stroke-width="0.8" />
<path d="M579.8 535.2 C 590 537, 605 538, 616.2 538.5" fill="none" stroke="#231f20" stroke-width="0.9" />
<path d="M583 545 C 588 570, 594 600, 598 620 M 589.7 542 C 600 580, 606 620, 607 660" fill="none" stroke="#231f20" stroke-width="0.8" />
<path d="M637 327.8 L 792 327.8 Q 795.5 327.8 795.5 331 L 795.5 379.5 Q 795.5 382.9 792 382.9 L 637 382.9 Q 633.6 382.9 633.6 379.5 L 633.6 331 Q 633.6 327.8 637 327.8 Z" fill="none" stroke="#231f20" stroke-width="0.8" />
<rect x="636.7" y="331" width="72.7" height="49.4" rx="2.5" fill="#e8e8e8" stroke="#231f20" stroke-width="2.2"/>
<rect x="639.7" y="332.8" width="66.7" height="4.6" rx="2.2" fill="#f3f3f3" stroke="#231f20" stroke-width="0.8"/>
<path d="M645.7 336.6 l0.6 -2.8 M651.5 336.6 l0.6 -2.8 M657.3 336.6 l0.6 -2.8 M663.1 336.6 l0.6 -2.8 M668.9 336.6 l0.6 -2.8 M674.7 336.6 l0.6 -2.8 M680.5 336.6 l0.6 -2.8 M686.3 336.6 l0.6 -2.8 M692.1 336.6 l0.6 -2.8 M697.9 336.6 l0.6 -2.8 " stroke="#231f20" stroke-width="0.7"/>
<rect x="639.7" y="341.1" width="66.7" height="4.6" rx="2.2" fill="#f3f3f3" stroke="#231f20" stroke-width="0.8"/>
<path d="M645.7 344.9 l0.6 -2.8 M651.5 344.9 l0.6 -2.8 M657.3 344.9 l0.6 -2.8 M663.1 344.9 l0.6 -2.8 M668.9 344.9 l0.6 -2.8 M674.7 344.9 l0.6 -2.8 M680.5 344.9 l0.6 -2.8 M686.3 344.9 l0.6 -2.8 M692.1 344.9 l0.6 -2.8 M697.9 344.9 l0.6 -2.8 " stroke="#231f20" stroke-width="0.7"/>
<rect x="639.7" y="349.0" width="66.7" height="4.6" rx="2.2" fill="#f3f3f3" stroke="#231f20" stroke-width="0.8"/>
<path d="M645.7 352.8 l0.6 -2.8 M651.5 352.8 l0.6 -2.8 M657.3 352.8 l0.6 -2.8 M663.1 352.8 l0.6 -2.8 M668.9 352.8 l0.6 -2.8 M674.7 352.8 l0.6 -2.8 M680.5 352.8 l0.6 -2.8 M686.3 352.8 l0.6 -2.8 M692.1 352.8 l0.6 -2.8 M697.9 352.8 l0.6 -2.8 " stroke="#231f20" stroke-width="0.7"/>
<rect x="639.7" y="356.7" width="66.7" height="4.6" rx="2.2" fill="#f3f3f3" stroke="#231f20" stroke-width="0.8"/>
<path d="M645.7 360.5 l0.6 -2.8 M651.5 360.5 l0.6 -2.8 M657.3 360.5 l0.6 -2.8 M663.1 360.5 l0.6 -2.8 M668.9 360.5 l0.6 -2.8 M674.7 360.5 l0.6 -2.8 M680.5 360.5 l0.6 -2.8 M686.3 360.5 l0.6 -2.8 M692.1 360.5 l0.6 -2.8 M697.9 360.5 l0.6 -2.8 " stroke="#231f20" stroke-width="0.7"/>
<rect x="639.7" y="364.6" width="66.7" height="4.6" rx="2.2" fill="#f3f3f3" stroke="#231f20" stroke-width="0.8"/>
<path d="M645.7 368.4 l0.6 -2.8 M651.5 368.4 l0.6 -2.8 M657.3 368.4 l0.6 -2.8 M663.1 368.4 l0.6 -2.8 M668.9 368.4 l0.6 -2.8 M674.7 368.4 l0.6 -2.8 M680.5 368.4 l0.6 -2.8 M686.3 368.4 l0.6 -2.8 M692.1 368.4 l0.6 -2.8 M697.9 368.4 l0.6 -2.8 " stroke="#231f20" stroke-width="0.7"/>
<rect x="639.7" y="372.3" width="66.7" height="4.6" rx="2.2" fill="#f3f3f3" stroke="#231f20" stroke-width="0.8"/>
<path d="M645.7 376.1 l0.6 -2.8 M651.5 376.1 l0.6 -2.8 M657.3 376.1 l0.6 -2.8 M663.1 376.1 l0.6 -2.8 M668.9 376.1 l0.6 -2.8 M674.7 376.1 l0.6 -2.8 M680.5 376.1 l0.6 -2.8 M686.3 376.1 l0.6 -2.8 M692.1 376.1 l0.6 -2.8 M697.9 376.1 l0.6 -2.8 " stroke="#231f20" stroke-width="0.7"/>
<path d="M666.7 358 C 669.7 361, 678.7 361, 682.7 358" fill="none" stroke="#231f20" stroke-width="0.8" />
<rect x="720.8" y="331" width="72.6" height="49.4" rx="2.5" fill="#e8e8e8" stroke="#231f20" stroke-width="2.2"/>
<rect x="723.8" y="332.8" width="66.6" height="4.6" rx="2.2" fill="#f3f3f3" stroke="#231f20" stroke-width="0.8"/>
<path d="M729.8 336.6 l0.6 -2.8 M735.6 336.6 l0.6 -2.8 M741.4 336.6 l0.6 -2.8 M747.2 336.6 l0.6 -2.8 M753.0 336.6 l0.6 -2.8 M758.8 336.6 l0.6 -2.8 M764.6 336.6 l0.6 -2.8 M770.4 336.6 l0.6 -2.8 M776.2 336.6 l0.6 -2.8 M782.0 336.6 l0.6 -2.8 " stroke="#231f20" stroke-width="0.7"/>
<rect x="723.8" y="341.1" width="66.6" height="4.6" rx="2.2" fill="#f3f3f3" stroke="#231f20" stroke-width="0.8"/>
<path d="M729.8 344.9 l0.6 -2.8 M735.6 344.9 l0.6 -2.8 M741.4 344.9 l0.6 -2.8 M747.2 344.9 l0.6 -2.8 M753.0 344.9 l0.6 -2.8 M758.8 344.9 l0.6 -2.8 M764.6 344.9 l0.6 -2.8 M770.4 344.9 l0.6 -2.8 M776.2 344.9 l0.6 -2.8 M782.0 344.9 l0.6 -2.8 " stroke="#231f20" stroke-width="0.7"/>
<rect x="723.8" y="349.0" width="66.6" height="4.6" rx="2.2" fill="#f3f3f3" stroke="#231f20" stroke-width="0.8"/>
<path d="M729.8 352.8 l0.6 -2.8 M735.6 352.8 l0.6 -2.8 M741.4 352.8 l0.6 -2.8 M747.2 352.8 l0.6 -2.8 M753.0 352.8 l0.6 -2.8 M758.8 352.8 l0.6 -2.8 M764.6 352.8 l0.6 -2.8 M770.4 352.8 l0.6 -2.8 M776.2 352.8 l0.6 -2.8 M782.0 352.8 l0.6 -2.8 " stroke="#231f20" stroke-width="0.7"/>
<rect x="723.8" y="356.7" width="66.6" height="4.6" rx="2.2" fill="#f3f3f3" stroke="#231f20" stroke-width="0.8"/>
<path d="M729.8 360.5 l0.6 -2.8 M735.6 360.5 l0.6 -2.8 M741.4 360.5 l0.6 -2.8 M747.2 360.5 l0.6 -2.8 M753.0 360.5 l0.6 -2.8 M758.8 360.5 l0.6 -2.8 M764.6 360.5 l0.6 -2.8 M770.4 360.5 l0.6 -2.8 M776.2 360.5 l0.6 -2.8 M782.0 360.5 l0.6 -2.8 " stroke="#231f20" stroke-width="0.7"/>
<rect x="723.8" y="364.6" width="66.6" height="4.6" rx="2.2" fill="#f3f3f3" stroke="#231f20" stroke-width="0.8"/>
<path d="M729.8 368.4 l0.6 -2.8 M735.6 368.4 l0.6 -2.8 M741.4 368.4 l0.6 -2.8 M747.2 368.4 l0.6 -2.8 M753.0 368.4 l0.6 -2.8 M758.8 368.4 l0.6 -2.8 M764.6 368.4 l0.6 -2.8 M770.4 368.4 l0.6 -2.8 M776.2 368.4 l0.6 -2.8 M782.0 368.4 l0.6 -2.8 " stroke="#231f20" stroke-width="0.7"/>
<rect x="723.8" y="372.3" width="66.6" height="4.6" rx="2.2" fill="#f3f3f3" stroke="#231f20" stroke-width="0.8"/>
<path d="M729.8 376.1 l0.6 -2.8 M735.6 376.1 l0.6 -2.8 M741.4 376.1 l0.6 -2.8 M747.2 376.1 l0.6 -2.8 M753.0 376.1 l0.6 -2.8 M758.8 376.1 l0.6 -2.8 M764.6 376.1 l0.6 -2.8 M770.4 376.1 l0.6 -2.8 M776.2 376.1 l0.6 -2.8 M782.0 376.1 l0.6 -2.8 " stroke="#231f20" stroke-width="0.7"/>
<path d="M750.8 358 C 753.8 361, 762.8 361, 766.8 358" fill="none" stroke="#231f20" stroke-width="0.8" />
<rect x="712.5" y="338" width="5.2" height="32.4" rx="2.6" fill="none" stroke="#231f20" stroke-width="0.8"/>
<circle cx="715" cy="333.6" r="1.8" fill="none" stroke="#231f20" stroke-width="0.8"/>
<circle cx="715" cy="375" r="1.8" fill="none" stroke="#231f20" stroke-width="0.8"/>
<path d="M773.3 296.6 C 790 303, 803 315, 808 330 C 814 360, 816.4 400, 816.4 445.7 C 816 480, 813 505, 806.4 531.8" fill="none" stroke="#231f20" stroke-width="0.9" />
<path d="M811.4 531.8 L 839.6 526.9" fill="none" stroke="#231f20" stroke-width="0.8" />
<path d="M640 394 C 630 394, 624.6 400, 624.6 412 L 624.6 470 C 624.6 480, 630 485, 642 485.3" fill="none" stroke="#231f20" stroke-width="0.9" />
<path d="M788 395.8 C 800 396, 807 402, 807 412 L 807 470 C 807 480, 800 485, 787 485.3" fill="none" stroke="#231f20" stroke-width="0.9" />
<rect x="793" y="408" width="12.3" height="70.2" rx="5" fill="none" stroke="#231f20" stroke-width="0.8"/>
<path d="M797 420 L 797 476 M 801 418 L 801 476" fill="none" stroke="#231f20" stroke-width="0.7" />
<path d="M632 400 L 631 475" fill="none" stroke="#231f20" stroke-width="0.7" />
<rect x="624.5" y="425.8" width="12.3" height="48.1" fill="#e8e8e8" stroke="#231f20" stroke-width="1.8"/>
<path d="M624.5 442 L 636.8 442 M 624.5 457 L 636.8 457" fill="none" stroke="#231f20" stroke-width="0.7" />
<circle cx="630.6" cy="434" r="2.6" fill="none" stroke="#231f20" stroke-width="0.7"/>
<ellipse cx="630.6" cy="450" rx="2.4" ry="3" fill="none" stroke="#231f20" stroke-width="0.7"/>
<path d="M643.5 394.9 L786.8 395.8 L785.1 440.5 L643.9 439.6 Z" fill="#e8e8e8" stroke="#231f20" stroke-width="2.2"/>
<rect x="666.7" y="404.6" width="98.2" height="6.1" rx="3" fill="none" stroke="#231f20" stroke-width="0.9"/>
<path d="M668.5 406.3 L 763 406.3 M 668.5 408.6 L 763 408.6" fill="none" stroke="#231f20" stroke-width="0.9" />
<path d="M686 420 L 692 420 M 704 420 L 710 420 M 721 421 L 723 418 M 737 420 L 743 420 M 675 421 L 677 421 M 675 430 L 677 430 M 753 421 L 755 421 M 753 430 L 755 430" fill="none" stroke="#231f20" stroke-width="1.3" />
<path d="M769.3 417.5 L 769.3 418.5 M 769.3 432 L 769.3 433 M 761.5 425.3 L 762.5 425.3 M 776 425.3 L 777 425.3 M 763 419 L 767 423 M 775.5 419 L 771.5 423 M 763 431.5 L 767 427.5 M 775.5 431.5 L 771.5 427.5" fill="none" stroke="#231f20" stroke-width="1.0" />
<rect x="652.3" y="404.6" width="12.6" height="5.6" rx="1" fill="none" stroke="#231f20" stroke-width="0.8"/>
<rect x="766.3" y="405" width="13" height="5.2" rx="1" fill="none" stroke="#231f20" stroke-width="0.8"/>
<circle cx="661.8" cy="424.4" r="10" fill="none" stroke="#231f20" stroke-width="1.2"/>
<circle cx="661.8" cy="424.4" r="7.5" fill="none" stroke="#231f20" stroke-width="0.8"/>
<path d="M672 418 Q 674 416 681.6 416 L 681.6 436 Q 674 436 672 434 Z M 672 426 L 681.6 426" fill="none" stroke="#231f20" stroke-width="0.8" />
<path d="M683.3 415.1 L 749.1 415.1 L 747 424.7 L 686 424.7 Z M 699.8 415.1 L 699.8 424.7 M 716.2 415.1 L 716.2 424.7 M 732.6 415.1 L 732.6 424.7" fill="none" stroke="#231f20" stroke-width="0.8" />
<circle cx="686.8" cy="432.3" r="4.3" fill="none" stroke="#231f20" stroke-width="0.8"/>
<circle cx="698.2" cy="432.3" r="4.3" fill="none" stroke="#231f20" stroke-width="0.8"/>
<circle cx="709.6" cy="432.3" r="4.3" fill="none" stroke="#231f20" stroke-width="0.8"/>
<circle cx="721.0" cy="432.3" r="4.3" fill="none" stroke="#231f20" stroke-width="0.8"/>
<circle cx="732.8" cy="432.3" r="4.3" fill="none" stroke="#231f20" stroke-width="0.8"/>
<circle cx="744.7" cy="432.3" r="4.3" fill="none" stroke="#231f20" stroke-width="0.8"/>
<path d="M750.9 416 L 759.6 416 Q 757 426 759.6 435.3 L 750.9 435.3 Z M 751 426 L 758 426" fill="none" stroke="#231f20" stroke-width="0.8" />
<circle cx="769.3" cy="425.3" r="10" fill="none" stroke="#231f20" stroke-width="1.0"/>
<circle cx="769.3" cy="425.3" r="3.2" fill="none" stroke="#231f20" stroke-width="0.8"/>
<path d="M648 440.5 L 648 480 Q 648 483.5 652 483.5 L 778 483.5 Q 782 483.5 782 480 L 782 440.5" fill="none" stroke="#231f20" stroke-width="0.9" />
<path d="M652 447.5 L 778 447.5 M 655 453.7 L 760 453.7 M 652 447.5 L 660 478 L 775 478 L 778 447.5" fill="none" stroke="#231f20" stroke-width="0.8" />
<path d="M643 484.4 L781.6 485.3 L779.8 537.3 L654.4 539.6 L 643 520 Z" fill="#e8e8e8" stroke="#231f20" stroke-width="2.2"/>
<circle cx="672.2" cy="514.8" r="11.4" fill="none" stroke="#231f20" stroke-width="1.3"/>
<circle cx="672.2" cy="514.8" r="9.1" fill="none" stroke="#231f20" stroke-width="0.7"/>
<circle cx="713.2" cy="523.6" r="10.9" fill="none" stroke="#231f20" stroke-width="1.3"/>
<circle cx="713.2" cy="523.6" r="8.6" fill="none" stroke="#231f20" stroke-width="0.7"/>
<circle cx="756.3" cy="514.3" r="13.0" fill="none" stroke="#231f20" stroke-width="1.3"/>
<circle cx="756.3" cy="514.3" r="10.7" fill="none" stroke="#231f20" stroke-width="0.7"/>
<path d="M658.8 507.0 L657.7 509.3 L657.0 511.8 L656.7 514.3 L656.8 516.8 L657.4 519.3 L658.3 521.7 L659.6 523.8 L661.2 525.8 L663.2 527.4 L665.3 528.7 L667.7 529.6 L670.2 530.2 L672.7 530.3 L675.2 530.0 L677.7 529.3 L680.0 528.2 L682.0 526.8 L683.9 525.0 L685.4 523.0 L686.5 520.7 L687.3 518.3 L687.7 515.8 L687.6 513.3 L687.2 510.8" fill="none" stroke="#231f20" stroke-width="0.9" stroke-dasharray="2.2 1.6"/>
<path d="M699.2 527.4 L698.8 525.2 L698.7 523.0 L699.0 520.8 L699.6 518.6 L700.5 516.6 L701.7 514.8 L703.2 513.1 L704.9 511.7 L706.8 510.6 L708.8 509.8 L711.0 509.3 L713.2 509.1 L715.4 509.3 L717.6 509.8 L719.6 510.6 L721.5 511.7 L723.2 513.1 L724.7 514.8 L725.9 516.6 L726.8 518.6 L727.4 520.8 L727.7 523.0 L727.6 525.2 L727.2 527.4" fill="none" stroke="#231f20" stroke-width="0.9" stroke-dasharray="2.2 1.6"/>
<path d="M754.8 497.4 L757.7 497.4 L760.5 497.8 L763.1 498.7 L765.6 500.1 L767.9 501.9 L769.8 504.0 L771.3 506.3 L772.4 509.0 L773.1 511.7 L773.3 514.5 L773.0 517.4 L772.3 520.1 L771.1 522.7 L769.5 525.0 L767.5 527.1 L765.2 528.8 L762.7 530.1 L760.0 530.9 L757.2 531.3 L754.3 531.2 L751.5 530.6 L748.9 529.6 L746.4 528.2 L744.3 526.3" fill="none" stroke="#231f20" stroke-width="0.9" stroke-dasharray="4 1.6"/>
<path d="M667 497.5 C 667 495, 672 495, 672 497.5 Z M 727 524.6 m -1.8 0 a 1.8 1.8 0 1 0 3.6 0 a 1.8 1.8 0 1 0 -3.6 0 M 737 513.5 m -1.2 0 a 1.2 1.2 0 1 0 2.4 0 a 1.2 1.2 0 1 0 -2.4 0" fill="none" stroke="#231f20" stroke-width="0.8" />
<path d="M695 500 L 697 500 M 709 500.5 L 716 500.5 M 728 499 L 732 499 L 732 502 L 728 502 Z" fill="none" stroke="#231f20" stroke-width="0.9" />
<path d="M664 511 L 680 507 M 663 517 L 681 513 M 664 523 L 680 519" fill="none" stroke="#231f20" stroke-width="1.0" />
<path d="M704 520 L 720 516 M 704 526 L 721 522 M 706 531 L 720 528" fill="none" stroke="#231f20" stroke-width="1.0" />
<path d="M751 505 L 751 523 M 756 503 L 756 525 M 761 505 L 761 523" fill="none" stroke="#231f20" stroke-width="1.0" />
<path d="M689 495.8 L 736 495.8 Q 739 496 738 500 L 736 505.4 L 689 505.4 Q 686 505 686.8 500 Z M 699 495.8 L 699 505.4 M 723 495.8 L 723 505.4" fill="none" stroke="#231f20" stroke-width="0.9" />
<path d="M622.1 508 C 619 498, 628 494.5, 641.4 494.5 C 655 494.5, 664 498, 660.7 508 C 658 522, 655 538, 654.9 557.2 L 630.3 557.2 C 630 538, 625 522, 622.1 508 Z" fill="#e8e8e8" stroke="#231f20" stroke-width="0.9"/>
<path d="M623.5 505 C 630 511, 652 511.5, 659.5 505" fill="none" stroke="#231f20" stroke-width="0.9" />
<path d="M642 510.4 L 643.2 545.5" fill="none" stroke="#231f20" stroke-width="0.8" />
<path d="M630 557 C 628 562, 630 566, 633 566.5 L 652 566.5 C 656 566, 657 562, 655 557" fill="none" stroke="#231f20" stroke-width="0.9" />
<path d="M608 590 C 607 580, 610 574, 620 572 C 628 571, 632 574, 636 571 M 652 570 C 665 568, 680 570, 690 575 C 698 579, 702 585, 701.6 595 C 702 615, 698 632, 690 643.7 C 680 650, 660 652, 638.5 648.4 C 625 646, 612 635, 608 620.4 C 606 610, 607 600, 608 590" fill="none" stroke="#231f20" stroke-width="0.9" />
<path d="M628 566.5 C 627 575, 626.8 585, 626 597 C 624 605, 622 611, 620 615" fill="none" stroke="#231f20" stroke-width="0.8" />
<path d="M657.2 568.9 C 662 578, 667 588, 669 595 C 672 603, 675 610, 676 616" fill="none" stroke="#231f20" stroke-width="0.8" />
<path d="M617.4 580.6 C 619 588, 621 593, 622.1 599" fill="none" stroke="#231f20" stroke-width="0.7" />
<path d="M636 590 C 642 594, 648 598, 652 604 C 655 608, 660 612, 666 614" fill="none" stroke="#231f20" stroke-width="0.7" />
<path d="M657.2 601.6 C 665 597, 672 593, 680 590 M 686 583 C 688 595, 688 605, 686 615" fill="none" stroke="#231f20" stroke-width="0.7" />
<path d="M629 625 C 634 630, 640 634, 650 636 C 655 637, 660 638, 668 637" fill="none" stroke="#231f20" stroke-width="0.7" />
<path d="M668.9 627.4 C 675 625, 680 622, 685.3 620.4" fill="none" stroke="#231f20" stroke-width="0.7" />
<path d="M645.5 643.7 C 655 641, 665 642, 678.2 646" fill="none" stroke="#231f20" stroke-width="0.7" />
<path d="M614 605 C 620 612, 628 615, 636 616 M 640 604 C 648 612, 652 620, 650 628" fill="none" stroke="#231f20" stroke-width="0.7" />
<path d="M601 629.7 C 605 645, 617 660, 638.5 668 C 655 674, 680 672, 697 664.8 C 707 655, 712 640, 715.7 611" fill="none" stroke="#231f20" stroke-width="0.9" />
<path d="M626.8 654.3 C 640 660, 660 662, 678 660" fill="none" stroke="#231f20" stroke-width="0.8" stroke-dasharray="8 3"/>
<path d="M657.2 554.9 C 690 556, 740 556, 790.5 550.2 C 800 548, 810 540, 814 533.8" fill="none" stroke="#231f20" stroke-width="0.9" />
<path d="M582.3 531.5 L 617.4 536.1" fill="none" stroke="#231f20" stroke-width="0.8" />
<path d="M725 564.2 C 735 561, 745 560.7, 753 560.7 L 790.5 559.5 C 798 560, 803 563, 806 568 C 812 578, 815 590, 814 597 C 810 612, 805 625, 797.5 634.4 C 780 640, 750 642, 732 641.4 C 726 640, 722 635, 721.5 620 L 721.5 580.6 C 721.5 572, 722 566, 725 564.2 Z" fill="none" stroke="#231f20" stroke-width="0.9" />
<path d="M723.9 586.4 L 811.6 580.6 C 810 600, 806 618, 800 629.7 C 796 634, 793 635, 790.5 635.6 L 732 639 C 727 638, 725 635, 725 629.7 Z" fill="#e8e8e8" stroke="#231f20" stroke-width="0.9"/>
<path d="M753 561.9 L 753 584" fill="none" stroke="#231f20" stroke-width="0.8" />
<circle cx="736" cy="571.2" r="8" fill="none" stroke="#231f20" stroke-width="0.9"/>
<circle cx="736" cy="569.5" r="5" fill="none" stroke="#231f20" stroke-width="0.9"/>
<path d="M724 600 C 721 640, 716 690, 711 725" fill="none" stroke="#231f20" stroke-width="0.8" />
<path d="M837.4 474.3 C 832 440, 830 404.6, 831.1 404.6 C 831 385, 832 370, 834.9 362.2 C 838 350, 842 345, 847.3 339.8 C 855 330, 865 323, 874.7 319.9 C 895 312, 910 309, 924.6 308.6 L 974.4 307.4 C 1000 307.5, 1020 308, 1036.7 309.9 C 1055 313, 1072 317, 1086.5 322.4 C 1095 328, 1102 335, 1106.4 342.3 C 1113 352, 1119 365, 1121.4 379.7 C 1124 395, 1124 410, 1123.9 429.5 C 1123.5 450, 1122 465, 1121.4 474.3" fill="none" stroke="#231f20" stroke-width="0.9" />
<path d="M854.8 347.3 C 860 335, 866 328, 874.7 324.8 C 895 316, 910 312, 924.6 311.1 L 974.4 309.4 C 995 310, 1010 312, 1026.7 314.9" fill="none" stroke="#231f20" stroke-width="0.8" />
<path d="M1044 319.9 C 1060 325, 1080 335, 1091.5 347.3" fill="none" stroke="#231f20" stroke-width="0.8" />
<path d="M854.8 347.3 L 1094 349.8" fill="none" stroke="#231f20" stroke-width="0.9" />
<path d="M847 340 C 852 340, 855 343, 855 348" fill="none" stroke="#231f20" stroke-width="0.8" />
<rect x="890.9" y="366" width="176.9" height="53.5" rx="5" fill="none" stroke="#231f20" stroke-width="2.0"/>
<rect x="894.7" y="408.3" width="28.6" height="7.5" rx="3.7" fill="none" stroke="#231f20" stroke-width="0.8"/>
<text x="897" y="414.6" font-size="6" fill="#231f20" textLength="24" lengthAdjust="spacingAndGlyphs">AIRBAG</text>
<path d="M831.1 300 C 826 320, 822 340, 822.4 362.2 C 818 400, 816 430, 816.2 450 C 816 470, 817 490, 817.4 499" fill="none" stroke="#231f20" stroke-width="0.9" />
<path d="M1081.5 315 C 1095 322, 1108 332, 1116.4 342.3 C 1124 355, 1129 370, 1131.3 379.7 C 1134 400, 1135 420, 1135 434.5 C 1135 450, 1136 465, 1136 480" fill="none" stroke="#231f20" stroke-width="0.8" />
<path d="M1086.5 313 L 1146 315.5 L 1179.3 333 L 1118.9 331.5 Z" fill="none" stroke="#231f20" stroke-width="0.8" />
<path d="M1148 324 L 1149 330 M 1153 324 L 1154 330" fill="none" stroke="#231f20" stroke-width="0.7" />
<path d="M837.4 474.3 C 842 520, 848 560, 860 578 C 866 584, 872 585.8, 881.4 585.8 L 1044 585.8 C 1058 585, 1066 580, 1071.7 574 C 1082 560, 1092 535, 1104.8 507.7 C 1108 498, 1110 487, 1111.4 475.6 Z" fill="none" stroke="#231f20" stroke-width="2.0" />
<path d="M839.9 491.8 L 1106.4 490.5" fill="none" stroke="#231f20" stroke-width="0.9" />
<ellipse cx="973.7" cy="516.3" rx="34.7" ry="11.9" fill="none" stroke="#231f20" stroke-width="0.9"/>
<circle cx="976.3" cy="514.6" r="6" fill="none" stroke="#231f20" stroke-width="0.9"/>
<circle cx="976.3" cy="514.6" r="3.8" fill="none" stroke="#231f20" stroke-width="0.7"/>
<path d="M946 535 C 960 542, 990 542, 1004 535" fill="none" stroke="#231f20" stroke-width="0.9" />
<path d="M887 588 L 887 597.5 M 890 588 L 890 597.5" fill="none" stroke="#231f20" stroke-width="0.7" />
<path d="M1149 372.9 L 1229 372.9 C 1233 373, 1234 376, 1234 380 L 1234 436 C 1234 440, 1232 441.4, 1228 441.4 L 1150 441.4 C 1146 441.4, 1143.7 439, 1143.7 435 L 1143.7 379 C 1143.7 375, 1146 372.9, 1149 372.9 Z" fill="none" stroke="#231f20" stroke-width="0.9" />
<rect x="1159.3" y="380.7" width="65.4" height="51.3" rx="3" fill="#e8e8e8" stroke="#231f20" stroke-width="2.2"/>
<rect x="1162" y="384.7" width="60" height="4.4" rx="2" fill="#f3f3f3" stroke="#231f20" stroke-width="0.8"/>
<path d="M1169.0 388.3 l0.6 -2.6 M1174.8 388.3 l0.6 -2.6 M1180.6 388.3 l0.6 -2.6 M1186.4 388.3 l0.6 -2.6 M1192.2 388.3 l0.6 -2.6 M1198.0 388.3 l0.6 -2.6 M1203.8 388.3 l0.6 -2.6 M1209.6 388.3 l0.6 -2.6 M1215.4 388.3 l0.6 -2.6 " stroke="#231f20" stroke-width="0.7"/>
<rect x="1162" y="394.1" width="60" height="4.4" rx="2" fill="#f3f3f3" stroke="#231f20" stroke-width="0.8"/>
<path d="M1169.0 397.7 l0.6 -2.6 M1174.8 397.7 l0.6 -2.6 M1180.6 397.7 l0.6 -2.6 M1186.4 397.7 l0.6 -2.6 M1192.2 397.7 l0.6 -2.6 M1198.0 397.7 l0.6 -2.6 M1203.8 397.7 l0.6 -2.6 M1209.6 397.7 l0.6 -2.6 M1215.4 397.7 l0.6 -2.6 " stroke="#231f20" stroke-width="0.7"/>
<rect x="1162" y="401.8" width="60" height="4.4" rx="2" fill="#f3f3f3" stroke="#231f20" stroke-width="0.8"/>
<path d="M1169.0 405.4 l0.6 -2.6 M1174.8 405.4 l0.6 -2.6 M1180.6 405.4 l0.6 -2.6 M1186.4 405.4 l0.6 -2.6 M1192.2 405.4 l0.6 -2.6 M1198.0 405.4 l0.6 -2.6 M1203.8 405.4 l0.6 -2.6 M1209.6 405.4 l0.6 -2.6 M1215.4 405.4 l0.6 -2.6 " stroke="#231f20" stroke-width="0.7"/>
<rect x="1162" y="409.6" width="60" height="4.4" rx="2" fill="#f3f3f3" stroke="#231f20" stroke-width="0.8"/>
<path d="M1169.0 413.2 l0.6 -2.6 M1174.8 413.2 l0.6 -2.6 M1180.6 413.2 l0.6 -2.6 M1186.4 413.2 l0.6 -2.6 M1192.2 413.2 l0.6 -2.6 M1198.0 413.2 l0.6 -2.6 M1203.8 413.2 l0.6 -2.6 M1209.6 413.2 l0.6 -2.6 M1215.4 413.2 l0.6 -2.6 " stroke="#231f20" stroke-width="0.7"/>
<rect x="1162" y="417.4" width="60" height="4.4" rx="2" fill="#f3f3f3" stroke="#231f20" stroke-width="0.8"/>
<path d="M1169.0 421.0 l0.6 -2.6 M1174.8 421.0 l0.6 -2.6 M1180.6 421.0 l0.6 -2.6 M1186.4 421.0 l0.6 -2.6 M1192.2 421.0 l0.6 -2.6 M1198.0 421.0 l0.6 -2.6 M1203.8 421.0 l0.6 -2.6 M1209.6 421.0 l0.6 -2.6 M1215.4 421.0 l0.6 -2.6 " stroke="#231f20" stroke-width="0.7"/>
<rect x="1162" y="425.2" width="60" height="4.4" rx="2" fill="#f3f3f3" stroke="#231f20" stroke-width="0.8"/>
<path d="M1169.0 428.8 l0.6 -2.6 M1174.8 428.8 l0.6 -2.6 M1180.6 428.8 l0.6 -2.6 M1186.4 428.8 l0.6 -2.6 M1192.2 428.8 l0.6 -2.6 M1198.0 428.8 l0.6 -2.6 M1203.8 428.8 l0.6 -2.6 M1209.6 428.8 l0.6 -2.6 M1215.4 428.8 l0.6 -2.6 " stroke="#231f20" stroke-width="0.7"/>
<path d="M1180 412 C 1185 415, 1195 415, 1200 412" fill="none" stroke="#231f20" stroke-width="0.8" />
<rect x="1148.4" y="387" width="9.4" height="37.3" rx="4.7" fill="none" stroke="#231f20" stroke-width="0.9"/>
<rect x="1150.8" y="391" width="4.6" height="29" rx="2.3" fill="none" stroke="#231f20" stroke-width="0.6"/>
<circle cx="1153" cy="383" r="1.5" fill="none" stroke="#231f20" stroke-width="0.7"/>
<circle cx="1153" cy="428" r="1.5" fill="none" stroke="#231f20" stroke-width="0.7"/>
<path d="M1145 447 L 1236 448" fill="none" stroke="#231f20" stroke-width="0.8" />
<path d="M1144.8 479.4 L 1146 462 Q 1147 456 1153 456 L 1222 456 Q 1229.5 456 1229.5 463 L 1229.5 479.4" fill="none" stroke="#231f20" stroke-width="0.9" />
<path d="M1141 479 L 1142 460 Q 1143 452 1151 452 L 1224 452 Q 1233 452 1233 461 L 1233 480" fill="none" stroke="#231f20" stroke-width="0.7" />
<path d="M1115.5 571 L 1143.8 518.4 L 1197.4 518.4 L 1160.4 572 Z" fill="none" stroke="#231f20" stroke-width="0.9" />
<path d="M1150 519 L 1140 546 L 1130 547 M 1140 546 L 1149 566 M 1157 519 L 1147 544" fill="none" stroke="#231f20" stroke-width="0.8" />
<path d="M1134 478.5 C 1120 520, 1105 560, 1085.3 592.4" fill="none" stroke="#231f20" stroke-width="0.9" />
<path d="M1141 479 C 1128 520, 1113 560, 1093 592" fill="none" stroke="#231f20" stroke-width="0.8" />
<path d="M1114.6 475.5 L 1239.3 482.3" fill="none" stroke="#231f20" stroke-width="0.9" />
<path d="M1141.8 495 L 1217.8 495" fill="none" stroke="#231f20" stroke-width="0.8" />
<path d="M1217.8 482.3 C 1205 520, 1185 560, 1153.5 589.5" fill="none" stroke="#231f20" stroke-width="0.9" />
<path d="M1229.5 484.3 C 1215 525, 1195 565, 1169 591.5" fill="none" stroke="#231f20" stroke-width="0.8" />
<path d="M1111.6 475.5 L 1121.4 474.3" fill="none" stroke="#231f20" stroke-width="0.8" />
<circle cx="1250.5" cy="385.0" r="0.75" fill="#231f20"/>
<circle cx="1253.9" cy="385.0" r="0.75" fill="#231f20"/>
<circle cx="1257.3" cy="385.0" r="0.75" fill="#231f20"/>
<circle cx="1251.8" cy="388.8" r="0.75" fill="#231f20"/>
<circle cx="1255.2" cy="388.8" r="0.75" fill="#231f20"/>
<circle cx="1258.5" cy="388.8" r="0.75" fill="#231f20"/>
<circle cx="1250.0" cy="392.6" r="0.75" fill="#231f20"/>
<circle cx="1253.4" cy="392.6" r="0.75" fill="#231f20"/>
<circle cx="1256.8" cy="392.6" r="0.75" fill="#231f20"/>
<circle cx="1251.2" cy="396.4" r="0.75" fill="#231f20"/>
<circle cx="1254.7" cy="396.4" r="0.75" fill="#231f20"/>
<circle cx="1258.0" cy="396.4" r="0.75" fill="#231f20"/>
<circle cx="1249.5" cy="400.2" r="0.75" fill="#231f20"/>
<circle cx="1252.9" cy="400.2" r="0.75" fill="#231f20"/>
<circle cx="1256.3" cy="400.2" r="0.75" fill="#231f20"/>
<circle cx="1250.8" cy="404.0" r="0.75" fill="#231f20"/>
<circle cx="1254.2" cy="404.0" r="0.75" fill="#231f20"/>
<circle cx="1257.5" cy="404.0" r="0.75" fill="#231f20"/>
<circle cx="1249.0" cy="407.8" r="0.75" fill="#231f20"/>
<circle cx="1252.4" cy="407.8" r="0.75" fill="#231f20"/>
<circle cx="1255.8" cy="407.8" r="0.75" fill="#231f20"/>
<circle cx="1250.8" cy="411.6" r="0.75" fill="#231f20"/>
<circle cx="1254.2" cy="411.6" r="0.75" fill="#231f20"/>
<circle cx="1257.5" cy="411.6" r="0.75" fill="#231f20"/>
<circle cx="1249.5" cy="415.4" r="0.75" fill="#231f20"/>
<circle cx="1252.9" cy="415.4" r="0.75" fill="#231f20"/>
<circle cx="1256.3" cy="415.4" r="0.75" fill="#231f20"/>
<circle cx="1251.2" cy="419.2" r="0.75" fill="#231f20"/>
<circle cx="1254.7" cy="419.2" r="0.75" fill="#231f20"/>
<circle cx="1258.0" cy="419.2" r="0.75" fill="#231f20"/>
<circle cx="1250.0" cy="423.0" r="0.75" fill="#231f20"/>
<circle cx="1253.4" cy="423.0" r="0.75" fill="#231f20"/>
<circle cx="1256.8" cy="423.0" r="0.75" fill="#231f20"/>
<circle cx="1251.8" cy="426.8" r="0.75" fill="#231f20"/>
<circle cx="1255.2" cy="426.8" r="0.75" fill="#231f20"/>
<circle cx="1258.5" cy="426.8" r="0.75" fill="#231f20"/>
<path d="M841 551.7 C 835 570, 825 595, 819.7 611" fill="none" stroke="#231f20" stroke-width="0.8" />
<path d="M152.4 229.0 L152.4 399.5" stroke="#231f20" stroke-width="3" fill="none"/>
<path d="M211.8 229.0 L211.8 390.0" stroke="#231f20" stroke-width="3" fill="none"/>
<path d="M287.9 229.0 L287.9 411.0" stroke="#231f20" stroke-width="3" fill="none"/>
<path d="M427.9 229.0 L427.9 316.0" stroke="#231f20" stroke-width="3" fill="none"/>
<path d="M566.7 229.0 L566.7 411.0" stroke="#231f20" stroke-width="3" fill="none"/>
<path d="M628.8 229.0 L628.8 436.0" stroke="#231f20" stroke-width="3" fill="none"/>
<path d="M715.4 229.0 L715.4 321.6" stroke="#231f20" stroke-width="3" fill="none"/>
<path d="M975.3 229.0 L975.3 374.0" stroke="#231f20" stroke-width="3" fill="none"/>
<path d="M1195.3 229.0 L1195.3 389.0" stroke="#231f20" stroke-width="3" fill="none"/>
<path d="M1255.3 229.0 L1255.3 399.5" stroke="#231f20" stroke-width="3" fill="none"/>
<path d="M370.1 744.0 L370.1 522.0" stroke="#231f20" stroke-width="3" fill="none"/>
<path d="M424.7 744.0 L424.7 497.0" stroke="#231f20" stroke-width="3" fill="none"/>
<path d="M525.4 744.0 L525.4 484.0" stroke="#231f20" stroke-width="3" fill="none"/>
<path d="M705.9 744.0 L705.9 534.0" stroke="#231f20" stroke-width="3" fill="none"/>
<path d="M822.8 744.0 L822.8 422.0" stroke="#231f20" stroke-width="3" fill="none"/>
<path d="M966.4 744.0 L966.4 576.5" stroke="#231f20" stroke-width="3" fill="none"/>
<path d="M669.9 343.4 V321.6 H761.3 V343.4" stroke="#231f20" stroke-width="3" fill="none"/>
<path d="M824.3 422 H781.5" stroke="#231f20" stroke-width="3" fill="none"/>
<circle cx="152.4" cy="229.0" r="13.4" fill="#231f20"/>
<text class="num" x="152.6" y="236.9" font-size="21">2</text>
<circle cx="211.8" cy="229.0" r="13.4" fill="#231f20"/>
<path d="M216.1 221.5 L216.1 237.0 L212.7 237.0 L212.7 226.6 L208.5 226.6 L208.5 224.3 C210.7 224.2 212.1 223.2 212.6 221.5 Z" fill="#fff"/>
<circle cx="287.9" cy="229.0" r="13.4" fill="#231f20"/>
<text class="num" x="288.1" y="236.9" font-size="21">3</text>
<circle cx="427.9" cy="229.0" r="13.4" fill="#231f20"/>
<text class="num" x="428.1" y="236.9" font-size="21">4</text>
<circle cx="566.7" cy="229.0" r="13.4" fill="#231f20"/>
<text class="num" x="566.9" y="236.9" font-size="21">5</text>
<circle cx="628.8" cy="229.0" r="13.4" fill="#231f20"/>
<text class="num" x="629.0" y="236.9" font-size="21">6</text>
<circle cx="715.4" cy="229.0" r="13.4" fill="#231f20"/>
<text class="num" x="715.6" y="236.9" font-size="21">7</text>
<circle cx="975.3" cy="229.0" r="13.4" fill="#231f20"/>
<text class="num" x="975.5" y="236.9" font-size="21">8</text>
<circle cx="1195.3" cy="229.0" r="13.4" fill="#231f20"/>
<path d="M1199.6 221.5 L1199.6 237.0 L1196.2 237.0 L1196.2 226.6 L1192.0 226.6 L1192.0 224.3 C1194.2 224.2 1195.6 223.2 1196.1 221.5 Z" fill="#fff"/>
<circle cx="1255.3" cy="229.0" r="13.4" fill="#231f20"/>
<text class="num" x="1255.5" y="236.9" font-size="21">2</text>
<circle cx="370.1" cy="744.0" r="13.4" fill="#231f20"/>
<path d="M367.9 736.5 L367.9 752.0 L364.5 752.0 L364.5 741.6 L360.3 741.6 L360.3 739.3 C362.5 739.2 363.9 738.2 364.4 736.5 Z" fill="#fff"/>
<text class="num" x="369.2" y="751.9" font-size="21" textLength="11" lengthAdjust="spacingAndGlyphs" style="text-anchor:start">4</text>
<circle cx="424.7" cy="744.0" r="13.4" fill="#231f20"/>
<path d="M422.5 736.5 L422.5 752.0 L419.1 752.0 L419.1 741.6 L414.9 741.6 L414.9 739.3 C417.1 739.2 418.5 738.2 419.0 736.5 Z" fill="#fff"/>
<text class="num" x="423.8" y="751.9" font-size="21" textLength="11" lengthAdjust="spacingAndGlyphs" style="text-anchor:start">3</text>
<circle cx="525.4" cy="744.0" r="13.4" fill="#231f20"/>
<path d="M523.2 736.5 L523.2 752.0 L519.8 752.0 L519.8 741.6 L515.6 741.6 L515.6 739.3 C517.8 739.2 519.2 738.2 519.7 736.5 Z" fill="#fff"/>
<text class="num" x="524.5" y="751.9" font-size="21" textLength="11" lengthAdjust="spacingAndGlyphs" style="text-anchor:start">2</text>
<circle cx="705.9" cy="744.0" r="13.4" fill="#231f20"/>
<path d="M703.7 736.5 L703.7 752.0 L700.3 752.0 L700.3 741.6 L696.1 741.6 L696.1 739.3 C698.3 739.2 699.7 738.2 700.2 736.5 Z" fill="#fff"/>
<path d="M713.7 736.5 L713.7 752.0 L710.3 752.0 L710.3 741.6 L706.1 741.6 L706.1 739.3 C708.3 739.2 709.7 738.2 710.2 736.5 Z" fill="#fff"/>
<circle cx="822.8" cy="744.0" r="13.4" fill="#231f20"/>
<path d="M820.6 736.5 L820.6 752.0 L817.2 752.0 L817.2 741.6 L813.0 741.6 L813.0 739.3 C815.2 739.2 816.6 738.2 817.1 736.5 Z" fill="#fff"/>
<text class="num" x="821.9" y="751.9" font-size="21" textLength="11" lengthAdjust="spacingAndGlyphs" style="text-anchor:start">0</text>
<circle cx="966.4" cy="744.0" r="13.4" fill="#231f20"/>
<text class="num" x="966.6" y="751.9" font-size="21">9</text>

<!-- captions -->
<text x="109" y="781.8" font-size="19.5" textLength="37" lengthAdjust="spacingAndGlyphs">fig. 1</text>
<text x="1243" y="763" font-size="11" font-weight="bold" textLength="55" lengthAdjust="spacingAndGlyphs">F0P0600m</text>

<g font-size="21.5">
<text x="110" y="847.3" textLength="1186" lengthAdjust="spacingAndGlyphs"><tspan font-weight="bold">1.</tspan> Diffuseurs air latéraux orientables - <tspan font-weight="bold">2.</tspan> Diffuseurs air latéraux fixes - <tspan font-weight="bold">3.</tspan> Levier gauche: commande feux extérieurs - <tspan font-weight="bold">4.</tspan> Tableau de bord -</text>
<text x="110" y="871.2" textLength="1186" lengthAdjust="spacingAndGlyphs"><tspan font-weight="bold">5.</tspan> Levier droit: commandes essuie-glace, essuie-lunette, trip computer - <tspan font-weight="bold">6.</tspan> Commandes sur la planche - <tspan font-weight="bold">7.</tspan> Diffuseurs air centraux</text>
<text x="110" y="894.8" textLength="1186" lengthAdjust="spacingAndGlyphs">orientables - <tspan font-weight="bold">8.</tspan> Air bag frontal côté passager (pour versions/marchés, où il est prévu) - <tspan font-weight="bold">9.</tspan> Boîte à gants - <tspan font-weight="bold">10.</tspan> Autoradio (pour</text>
<text x="110" y="918.2" textLength="1186" lengthAdjust="spacingAndGlyphs">versions/marchés, où il est prévu) - <tspan font-weight="bold">11.</tspan> Commandes chauffage/ventilation/climatisation - <tspan font-weight="bold">12.</tspan> Levier de commandes autoradio</text>
<text x="110" y="942.5" textLength="965" lengthAdjust="spacingAndGlyphs">(pour versions/marchés, où il est prévu) - <tspan font-weight="bold">13.</tspan> Air bag frontal côté conducteur - <tspan font-weight="bold">14.</tspan> Levier réglage volant</text>
</g>
</svg>
</body></html>
